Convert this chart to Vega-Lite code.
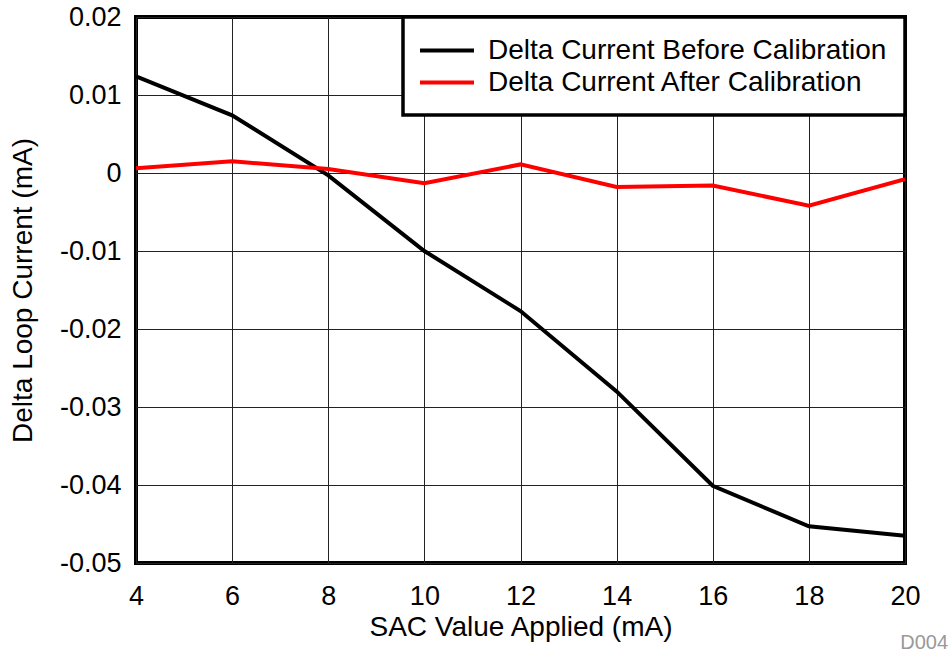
{
  "$schema": "https://vega.github.io/schema/vega-lite/v6.json",
  "width": 769,
  "height": 546,
  "autosize": {"type": "none"},
  "padding": {"left": 136, "top": 17, "right": 46, "bottom": 93},
  "background": "white",
  "title": {
    "text": "D004",
    "orient": "bottom",
    "anchor": "end",
    "frame": "group",
    "dx": 43,
    "offset": 8,
    "baseline": "alphabetic",
    "font": "Liberation Sans",
    "fontSize": 20,
    "fontWeight": "normal",
    "color": "#999999"
  },
  "data": {
    "values": [
      {"sac": 4, "delta": 0.0124, "series": "Delta Current Before Calibration"},
      {"sac": 6, "delta": 0.0074, "series": "Delta Current Before Calibration"},
      {"sac": 8, "delta": -0.0003, "series": "Delta Current Before Calibration"},
      {"sac": 10, "delta": -0.0100, "series": "Delta Current Before Calibration"},
      {"sac": 12, "delta": -0.0177, "series": "Delta Current Before Calibration"},
      {"sac": 14, "delta": -0.0280, "series": "Delta Current Before Calibration"},
      {"sac": 16, "delta": -0.0401, "series": "Delta Current Before Calibration"},
      {"sac": 18, "delta": -0.0453, "series": "Delta Current Before Calibration"},
      {"sac": 20, "delta": -0.0465, "series": "Delta Current Before Calibration"},
      {"sac": 4, "delta": 0.0006, "series": "Delta Current After Calibration"},
      {"sac": 6, "delta": 0.0015, "series": "Delta Current After Calibration"},
      {"sac": 8, "delta": 0.0005, "series": "Delta Current After Calibration"},
      {"sac": 10, "delta": -0.0013, "series": "Delta Current After Calibration"},
      {"sac": 12, "delta": 0.0011, "series": "Delta Current After Calibration"},
      {"sac": 14, "delta": -0.0018, "series": "Delta Current After Calibration"},
      {"sac": 16, "delta": -0.0016, "series": "Delta Current After Calibration"},
      {"sac": 18, "delta": -0.0042, "series": "Delta Current After Calibration"},
      {"sac": 20, "delta": -0.0008, "series": "Delta Current After Calibration"}
    ]
  },
  "mark": {"type": "line", "strokeWidth": 4, "clip": true},
  "encoding": {
    "x": {
      "field": "sac",
      "type": "quantitative",
      "scale": {"domain": [4, 20], "nice": false, "zero": false},
      "axis": {
        "values": [4, 6, 8, 10, 12, 14, 16, 18, 20],
        "title": "SAC Value Applied (mA)",
        "labelPadding": 20,
        "titlePadding": 4
      }
    },
    "y": {
      "field": "delta",
      "type": "quantitative",
      "scale": {"domain": [-0.05, 0.02], "nice": false, "zero": false},
      "axis": {
        "values": [-0.05, -0.04, -0.03, -0.02, -0.01, 0, 0.01, 0.02],
        "labelExpr": "'' + datum.value",
        "title": "Delta Loop Current (mA)",
        "labelPadding": 15,
        "titlePadding": 22
      }
    },
    "color": {
      "field": "series",
      "type": "nominal",
      "scale": {
        "domain": ["Delta Current Before Calibration", "Delta Current After Calibration"],
        "range": ["#000000", "#ff0000"]
      },
      "legend": {
        "title": null,
        "orient": "top-right",
        "offset": 0,
        "fillColor": "white",
        "strokeColor": "black",
        "padding": 18,
        "symbolType": "M-1,0H3",
        "symbolSize": 729,
        "symbolStrokeWidth": 4,
        "symbolOffset": -3,
        "labelFont": "Liberation Sans",
        "labelFontSize": 28,
        "labelColor": "black",
        "labelLimit": 800,
        "labelOffset": 39,
        "rowPadding": 2,
        "encode": {"legend": {"update": {"strokeWidth": {"value": 3.5}}}}
      }
    }
  },
  "config": {
    "font": "Liberation Sans",
    "view": {"stroke": "black", "strokeWidth": 4},
    "axis": {
      "domain": false,
      "ticks": false,
      "tickSize": 0,
      "grid": true,
      "gridColor": "#222222",
      "gridWidth": 1,
      "gridOpacity": 1,
      "labelFont": "Liberation Sans",
      "labelFontSize": 27,
      "labelColor": "black",
      "titleFont": "Liberation Sans",
      "titleFontSize": 28,
      "titleFontWeight": "normal",
      "titleColor": "black",
      "labelFlush": false,
      "labelOverlap": false
    }
  }
}
